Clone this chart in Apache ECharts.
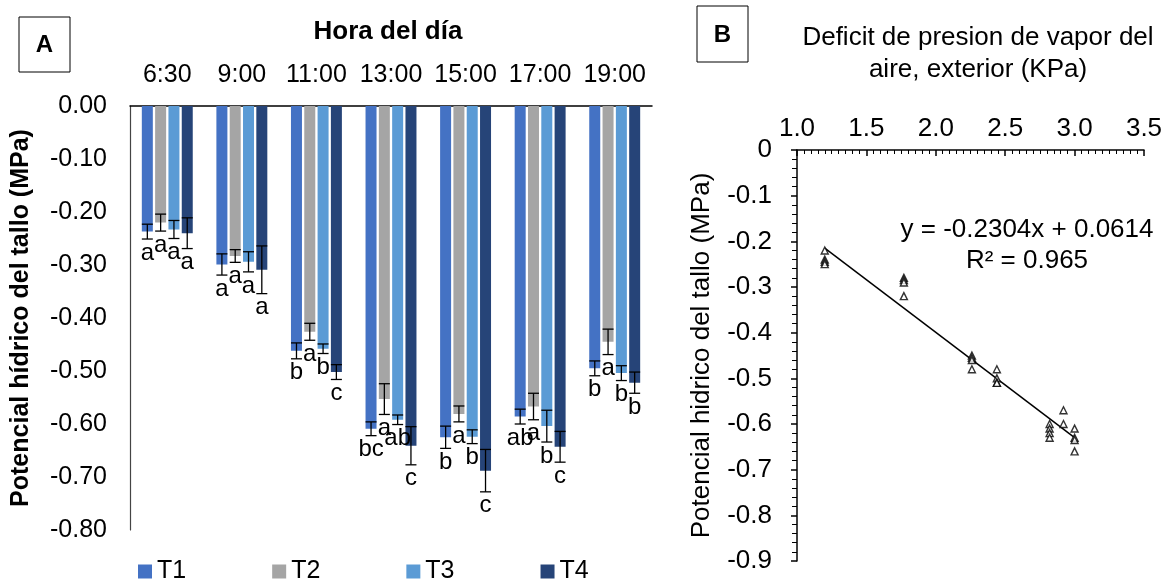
<!DOCTYPE html>
<html>
<head>
<meta charset="utf-8">
<script src="https://cdn.jsdelivr.net/npm/echarts@6/dist/echarts.min.js"></script>
<style>
  html, body { margin: 0; padding: 0; background: #fff; }
  #chart { width: 1167px; height: 581px; }
</style>
</head>
<body>
<div id="chart"></div>
<script>
// panel A: potencial hidrico por hora y tratamiento
var horas = ['6:30', '9:00', '11:00', '13:00', '15:00', '17:00', '19:00'];
var tratamientos = ['T1', 'T2', 'T3', 'T4'];
var t1 = [-0.237, -0.299, -0.462, -0.609, -0.625, -0.586, -0.495];
var t2 = [-0.220, -0.283, -0.426, -0.553, -0.581, -0.567, -0.445];
var t3 = [-0.233, -0.294, -0.458, -0.592, -0.624, -0.604, -0.504];
var t4 = [-0.240, -0.309, -0.502, -0.641, -0.688, -0.643, -0.522];
var e1 = [0.014, 0.020, 0.015, 0.013, 0.021, 0.014, 0.014];
var e2 = [0.016, 0.012, 0.016, 0.029, 0.015, 0.025, 0.024];
var e3 = [0.017, 0.019, 0.009, 0.009, 0.013, 0.030, 0.014];
var e4 = [0.029, 0.045, 0.014, 0.036, 0.040, 0.029, 0.020];
var l1 = ['a', 'a', 'b', 'bc', 'b', 'ab', 'b'];
var l2 = ['a', 'a', 'a', 'a', 'a', 'a', 'a'];
var l3 = ['a', 'a', 'b', 'ab', 'b', 'b', 'b'];
var l4 = ['a', 'a', 'c', 'c', 'c', 'c', 'b'];
var colores = ['#4472C4', '#A5A5A5', '#5B9BD5', '#264478'];

// panel B: DPV vs potencial
var dpv = [1.2, 1.2, 1.2, 1.2, 1.77, 1.77, 1.77, 1.77, 2.26, 2.26, 2.26, 2.26,
           2.44, 2.44, 2.44, 2.44, 2.82, 2.82, 2.82, 2.82, 2.92, 2.92, 3.0, 3.0, 3.0, 3.0];
var potencial = [-0.22, -0.24, -0.245, -0.25, -0.28, -0.285, -0.29, -0.32, -0.45, -0.455, -0.46, -0.48,
                 -0.48, -0.50, -0.51, -0.51, -0.60, -0.61, -0.62, -0.63, -0.57, -0.60, -0.61, -0.63, -0.635, -0.66];
var pendiente = -0.2304, intercepto = 0.0614;
var tendenciaX = [1.2, 3.0];

var FONT = 'Liberation Sans';
var BAR_W = 11, BAR_STEP = 13.3;

var valores = [t1, t2, t3, t4];
var errores = [e1, e2, e3, e4];
var letras = [l1, l2, l3, l4];

function errorSeries(k) {
  return {
    type: 'custom',
    xAxisIndex: 0, yAxisIndex: 0,
    z: 5,
    data: horas.map(function (h, i) { return [i, valores[k][i], errores[k][i]]; }),
    renderItem: function (params, api) {
      var i = api.value(0), v = api.value(1), e = api.value(2);
      var x = api.coord([i, 0])[0] + (k - 1.5) * BAR_STEP;
      var yTop = api.coord([i, v + e])[1];
      var yBot = api.coord([i, v - e])[1];
      var st = { stroke: '#000', lineWidth: 1.3 };
      return {
        type: 'group',
        children: [
          { type: 'line', shape: { x1: x, y1: yTop, x2: x, y2: yBot }, style: st },
          { type: 'line', shape: { x1: x - 5.5, y1: yTop, x2: x + 5.5, y2: yTop }, style: st },
          { type: 'line', shape: { x1: x - 5.5, y1: yBot, x2: x + 5.5, y2: yBot }, style: st },
          { type: 'text', style: { text: letras[k][params.dataIndex], x: x, y: yBot + 2,
              textAlign: 'center', textVerticalAlign: 'top', fill: '#000',
              font: '24px "' + FONT + '"' } }
        ]
      };
    }
  };
}

var series = [];
tratamientos.forEach(function (t, k) {
  series.push({
    name: t, type: 'bar', xAxisIndex: 0, yAxisIndex: 0,
    data: valores[k], barWidth: BAR_W, barGap: '21%',
    itemStyle: { color: colores[k] }
  });
});
tratamientos.forEach(function (t, k) { series.push(errorSeries(k)); });

series.push({
  type: 'scatter', xAxisIndex: 1, yAxisIndex: 1,
  data: dpv.map(function (x, i) { return [x, potencial[i]]; }),
  symbol: 'triangle', symbolSize: 7,
  itemStyle: { color: '#fff', borderColor: '#000', borderWidth: 1.4 },
  z: 4
});
series.push({
  type: 'line', xAxisIndex: 1, yAxisIndex: 1,
  data: tendenciaX.map(function (x) { return [x, pendiente * x + intercepto]; }),
  showSymbol: false, symbol: 'none',
  lineStyle: { color: '#000', width: 1.5 },
  z: 3
});

var chart = echarts.init(document.getElementById('chart'));
chart.setOption({
  animation: false,
  textStyle: { fontFamily: FONT, color: '#000' },
  legend: {
    data: tratamientos, left: 133, top: 554,
    icon: 'rect', itemWidth: 14, itemHeight: 14, itemGap: 86,
    textStyle: { fontSize: 25, color: '#000', fontFamily: FONT }
  },
  grid: [
    { left: 130, top: 106, width: 522, height: 424 },
    { left: 797, top: 150, width: 347, height: 411 }
  ],
  xAxis: [
    {
      type: 'category', gridIndex: 0, data: horas, position: 'top',
      axisLine: { lineStyle: { color: '#000', width: 1.5 } },
      axisTick: { show: false },
      axisLabel: { fontSize: 25, color: '#000', margin: 18, fontFamily: FONT, interval: 0, hideOverlap: false }
    },
    {
      type: 'value', gridIndex: 1, position: 'top', min: 1, max: 3.5, interval: 0.5,
      axisLine: { lineStyle: { color: '#000', width: 1.5 } },
      axisTick: { inside: true, length: 6, lineStyle: { color: '#000', width: 1.5 } },
      minorTick: { show: true, splitNumber: 10, length: 4, lineStyle: { color: '#000', width: 1 } },
      splitLine: { show: false },
      axisLabel: { fontSize: 26, color: '#000', margin: 8, fontFamily: FONT,
        formatter: function (v) { return v.toFixed(1); } }
    }
  ],
  yAxis: [
    {
      type: 'value', gridIndex: 0, min: -0.8, max: 0, interval: 0.1,
      axisLine: { show: true, lineStyle: { color: '#444', width: 1.2 } },
      axisTick: { show: false },
      splitLine: { show: false },
      axisLabel: { fontSize: 25, color: '#000', margin: 23, fontFamily: FONT,
        formatter: function (v) { return v.toFixed(2); } },
      name: 'Potencial hídrico del tallo (MPa)', nameLocation: 'middle', nameGap: 96,
      nameTextStyle: { fontSize: 25, fontWeight: 'bold', color: '#000', fontFamily: FONT }
    },
    {
      type: 'value', gridIndex: 1, min: -0.9, max: 0, interval: 0.1,
      axisLine: { show: true, lineStyle: { color: '#000', width: 1.5 } },
      axisTick: { length: 6, lineStyle: { color: '#000', width: 1.5 } },
      minorTick: { show: true, splitNumber: 5, length: 5, lineStyle: { color: '#000', width: 1 } },
      splitLine: { show: false },
      axisLabel: { fontSize: 26, color: '#000', margin: 25, fontFamily: FONT,
        formatter: function (v) { return v === 0 ? '0' : v.toFixed(1); } },
      name: 'Potencial hidrico del tallo (MPa)', nameLocation: 'middle', nameGap: 82,
      nameTextStyle: { fontSize: 26, color: '#000', fontFamily: FONT }
    }
  ],
  graphic: [
    { type: 'rect', shape: { x: 19, y: 17, width: 51, height: 55 },
      style: { fill: '#fff', stroke: '#000', lineWidth: 1 } },
    { type: 'text', x: 44.5, y: 45, style: { text: 'A', font: 'bold 24px "' + FONT + '"',
      textAlign: 'center', textVerticalAlign: 'middle', fill: '#000' } },
    { type: 'rect', shape: { x: 697, y: 6, width: 51, height: 56 },
      style: { fill: '#fff', stroke: '#000', lineWidth: 1 } },
    { type: 'text', x: 722.5, y: 35, style: { text: 'B', font: 'bold 24px "' + FONT + '"',
      textAlign: 'center', textVerticalAlign: 'middle', fill: '#000' } },
    { type: 'text', x: 388, y: 32, style: { text: 'Hora del día', font: 'bold 26px "' + FONT + '"',
      textAlign: 'center', textVerticalAlign: 'middle', fill: '#000' } },
    { type: 'text', x: 978, y: 38, style: { text: 'Deficit de presion de vapor del', font: '26px "' + FONT + '"',
      textAlign: 'center', textVerticalAlign: 'middle', fill: '#000' } },
    { type: 'text', x: 978, y: 70, style: { text: 'aire, exterior (KPa)', font: '26px "' + FONT + '"',
      textAlign: 'center', textVerticalAlign: 'middle', fill: '#000' } },
    { type: 'text', x: 1027, y: 230, style: { text: 'y = -0.2304x + 0.0614', font: '26px "' + FONT + '"',
      textAlign: 'center', textVerticalAlign: 'middle', fill: '#000' } },
    { type: 'text', x: 1027, y: 261, style: { text: 'R² = 0.965', font: '26px "' + FONT + '"',
      textAlign: 'center', textVerticalAlign: 'middle', fill: '#000' } }
  ],
  series: series
});
</script>
</body>
</html>
